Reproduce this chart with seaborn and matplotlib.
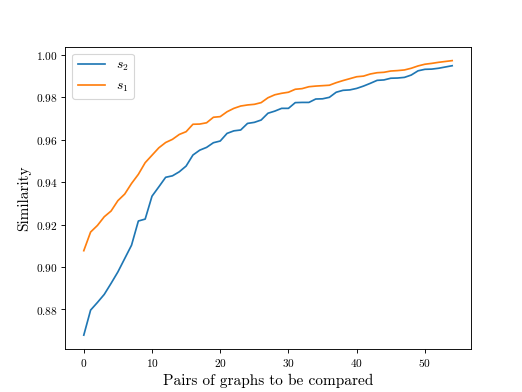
import numpy as np
import pandas as pd
import seaborn as sns
import matplotlib
matplotlib.use("Agg")
import matplotlib.pyplot as plt

plt.rcParams['font.family'] = 'serif'
plt.rcParams['font.serif'] = ['cmr10']
plt.rcParams['mathtext.fontset'] = 'cm'
plt.rcParams['axes.formatter.use_mathtext'] = True

# similarity values per pair index
s2 = [0.8679, 0.8797, 0.8833, 0.8871, 0.8923, 0.8977, 0.9040, 0.9103, 0.9217, 0.9226,
      0.9334, 0.9378, 0.9423, 0.9430, 0.9449, 0.9476, 0.9528, 0.9551, 0.9564, 0.9586,
      0.9594, 0.9630, 0.9642, 0.9646, 0.9677, 0.9682, 0.9693, 0.9725, 0.9735, 0.9748,
      0.9748, 0.9775, 0.9776, 0.9776, 0.9792, 0.9793, 0.9800, 0.9824, 0.9833, 0.9835,
      0.9842, 0.9853, 0.9866, 0.9880, 0.9882, 0.9890, 0.9891, 0.9894, 0.9905, 0.9925,
      0.9932, 0.9933, 0.9937, 0.9943, 0.9949]
s1 = [0.9077, 0.9165, 0.9196, 0.9237, 0.9264, 0.9313, 0.9344, 0.9394, 0.9437, 0.9492,
      0.9527, 0.9562, 0.9587, 0.9602, 0.9625, 0.9638, 0.9673, 0.9674, 0.9680, 0.9706,
      0.9709, 0.9732, 0.9748, 0.9759, 0.9764, 0.9767, 0.9775, 0.9798, 0.9812, 0.9819,
      0.9824, 0.9838, 0.9841, 0.9850, 0.9853, 0.9855, 0.9857, 0.9869, 0.9879, 0.9888,
      0.9897, 0.9900, 0.9910, 0.9916, 0.9918, 0.9924, 0.9926, 0.9929, 0.9937, 0.9948,
      0.9956, 0.9960, 0.9965, 0.9969, 0.9973]
pairs = np.arange(len(s2))

fig, ax = plt.subplots(figsize=(6.4, 4.8), dpi=81.7)
sns.lineplot(x=pairs, y=s2, color='C0', label='$s_2$', ax=ax)
sns.lineplot(x=pairs, y=s1, color='C1', label='$s_1$', ax=ax)

ax.set_xlabel('Pairs of graphs to be compared', size=13.5)
ax.set_ylabel('Similarity', size=13.5)
ax.legend(loc='upper left', fontsize=12)

plt.savefig('out.png', dpi=81.7)
